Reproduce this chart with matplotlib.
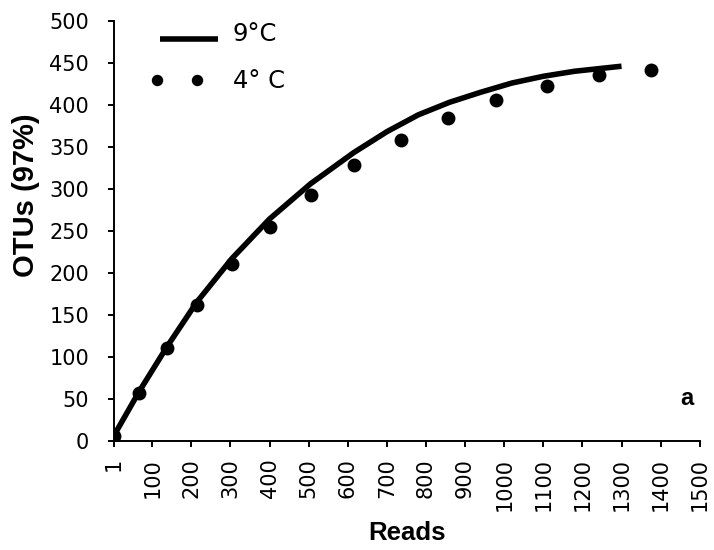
import matplotlib
matplotlib.use("Agg")
import matplotlib.pyplot as plt
from matplotlib.legend_handler import HandlerLine2D

# Rarefaction curves: OTUs (97%) versus number of reads
reads_9c = [1, 66, 138, 214, 304, 400, 505, 615, 700, 780, 860, 940,
            1020, 1100, 1180, 1260, 1300]
otus_9c = [5, 58, 112, 165, 217, 264, 306, 343, 368, 388, 403, 415,
           426, 434, 440, 444, 446]

reads_4c = [1, 66, 138, 214, 304, 400, 505, 615, 735, 856, 980, 1110, 1242, 1376]
otus_4c = [6, 57, 110, 162, 210, 254, 293, 328, 358, 384, 406, 422, 435, 442]

x_ticks = [1] + list(range(100, 1501, 100))
x_tick_labels = [str(t) for t in x_ticks]
y_ticks = list(range(0, 501, 50))

TICK_FONT = 'DejaVu Sans'
LABEL_FONT = ['Liberation Sans', 'DejaVu Sans']


class LineHandleLowered(HandlerLine2D):
    """Legend line sample drawn slightly below the text centre."""
    def create_artists(self, legend, orig_handle, xdescent, ydescent,
                       width, height, fontsize, trans):
        return super().create_artists(legend, orig_handle, xdescent,
                                      ydescent + 9.5, width, height,
                                      fontsize, trans)


class DotsHandleShort(HandlerLine2D):
    """Legend marker pair placed close together at the left of the handle."""
    def create_artists(self, legend, orig_handle, xdescent, ydescent,
                       width, height, fontsize, trans):
        return super().create_artists(legend, orig_handle, xdescent,
                                      ydescent, width * 0.66, height,
                                      fontsize, trans)


fig = plt.figure(figsize=(7.14, 5.5), dpi=100)
ax = fig.add_axes([0.159, 0.199, 0.821, 0.763])

line9, = ax.plot(reads_9c, otus_9c, color='black', lw=4.0,
                 solid_capstyle='butt', solid_joinstyle='round',
                 label='9°C', zorder=3)
dots4, = ax.plot(reads_4c, otus_4c, linestyle='none', marker='o',
                 markersize=9, color='black', label='4° C', zorder=4)

ax.set_xlim(1, 1500)
ax.set_ylim(0, 500)
ax.set_xticks(x_ticks)
ax.set_xticklabels(x_tick_labels, rotation=90, family=TICK_FONT)
ax.set_yticks(y_ticks)
ax.set_yticklabels([str(t) for t in y_ticks], family=TICK_FONT)

for side in ('top', 'right'):
    ax.spines[side].set_visible(False)
for side in ('left', 'bottom'):
    ax.spines[side].set_linewidth(1.4)
ax.tick_params(axis='both', direction='out', length=4.5, width=1.4,
               labelsize=15, color='black')
ax.tick_params(axis='x', pad=8)
ax.tick_params(axis='y', pad=13)

ax.set_xlabel('Reads', fontsize=18.5, fontweight='bold',
              family=LABEL_FONT, labelpad=7)
ax.set_ylabel('OTUs (97%)', fontsize=21, fontweight='bold',
              family=LABEL_FONT, va='center')
ax.yaxis.set_label_coords(-0.149, 0.585)

leg = ax.legend(handles=[line9, dots4], loc='upper left',
                bbox_to_anchor=(153 / 714, 1 - 22 / 550),
                bbox_transform=fig.transFigure, frameon=False,
                prop={'family': TICK_FONT, 'size': 17.5},
                numpoints=2, handlelength=2.96, handletextpad=0.33,
                labelspacing=0.95, borderpad=0, borderaxespad=0,
                markerscale=0.8,
                handler_map={line9: LineHandleLowered(),
                             dots4: DotsHandleShort(marker_pad=0.15,
                                                    numpoints=2)})

ax.text(0.978, 0.0846, 'a', transform=ax.transAxes, fontsize=17,
        fontweight='bold', family=LABEL_FONT, ha='center', va='baseline')

fig.savefig('out.png', dpi=100)
